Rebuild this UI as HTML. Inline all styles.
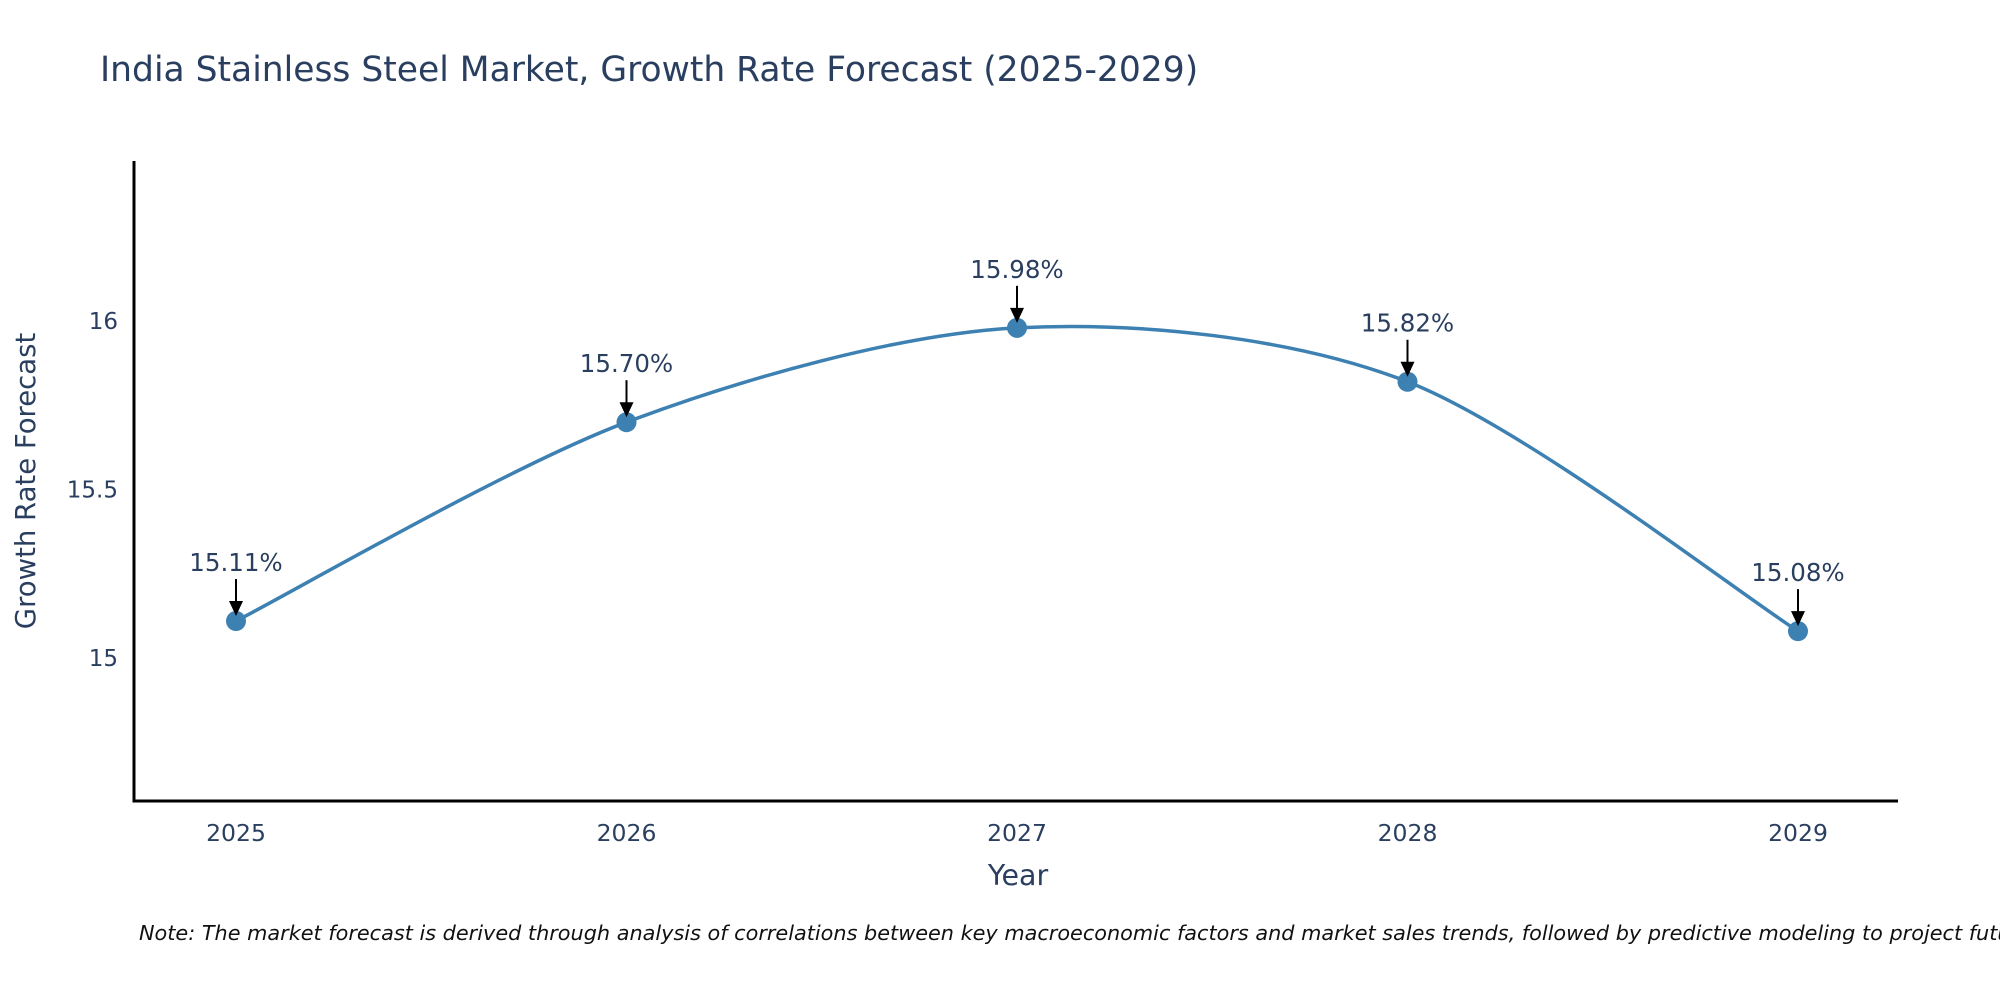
<!DOCTYPE html>
<html><head><meta charset="utf-8"><style>
body{margin:0;background:#fff;}
svg text{font-family:"DejaVu Sans","Liberation Sans",sans-serif;fill:#2a3f5f;}
</style></head><body>
<svg width="2000" height="1000" xmlns="http://www.w3.org/2000/svg">
<text x="100" y="81" font-size="34.5">India Stainless Steel Market, Growth Rate Forecast (2025-2029)</text>
<g id="plot"></g>
<text x="1018" y="885" font-size="28.5" text-anchor="middle">Year</text>
<text transform="translate(35,481) rotate(-90)" font-size="27.5" text-anchor="middle">Growth Rate Forecast</text>
<text x="139" y="940" font-size="20.8" font-style="italic" style="fill:#111">Note: The market forecast is derived through analysis of correlations between key macroeconomic factors and market sales trends, followed by predictive modeling to project future sales.</text>
</svg>
<script>
const years = [2025, 2026, 2027, 2028, 2029];
const values = [15.11, 15.70, 15.98, 15.82, 15.08];
const labels = ["15.11%", "15.70%", "15.98%", "15.82%", "15.08%"];
const yTicks = [15, 15.5, 16];

const NS = "http://www.w3.org/2000/svg";
const g = document.getElementById('plot');
const L = 134, R = 1898, T = 161, B = 801;
const yMin = 14.576, yMax = 16.475;
const X = v => 236 + (v - 2025) * (1798 - 236) / 4;
const Y = v => B - (v - yMin) / (yMax - yMin) * (B - T);
function mk(tag, attrs) { const e = document.createElementNS(NS, tag); for (const k in attrs) e.setAttribute(k, attrs[k]); g.appendChild(e); return e; }

let e;
e = mk('line', {x1: L, y1: T, x2: L, y2: B + 1.5, stroke: '#000', 'stroke-width': 3});


e = mk('line', {x1: L - 1.5, y1: B, x2: R, y2: B, stroke: '#000', 'stroke-width': 3});



yTicks.forEach(t => {
  const tx = mk('text', {x: L - 16, y: Y(t) + 8, 'font-size': 23, 'text-anchor': 'end'});
  tx.textContent = String(t);
  
  
});
years.forEach(yr => {
  const tx = mk('text', {x: X(yr), y: B + 40, 'font-size': 23.5, 'text-anchor': 'middle'});
  tx.textContent = String(yr);
  
  
});

const pts = years.map((yr, i) => [X(yr), Y(values[i])]);
let d = `M${pts[0][0]},${pts[0][1]}`;
const s = 0.15;
for (let i = 0; i < pts.length - 1; i++) {
  const p0 = pts[Math.max(0, i - 1)], p1 = pts[i], p2 = pts[i + 1], p3 = pts[Math.min(pts.length - 1, i + 2)];
  const c1 = [p1[0] + (p2[0] - p0[0]) * s, p1[1] + (p2[1] - p0[1]) * s];
  const c2 = [p2[0] - (p3[0] - p1[0]) * s, p2[1] - (p3[1] - p1[1]) * s];
  d += ` C${c1[0]},${c1[1]} ${c2[0]},${c2[1]} ${p2[0]},${p2[1]}`;
}
e = mk('path', {d: d, fill: 'none', stroke: '#3d80b2', 'stroke-width': 3.5});



pts.forEach((p, i) => {
  const c = mk('circle', {cx: p[0], cy: p[1], r: 10, fill: '#3d80b2'});
  
  
  const ln = mk('line', {x1: p[0], y1: p[1] - 42, x2: p[0], y2: p[1] - 18, stroke: '#000', 'stroke-width': 2});
  
  
  const tri = mk('polygon', {points: `${p[0]-7},${p[1]-20} ${p[0]+7},${p[1]-20} ${p[0]},${p[1]-5}`, fill: '#000'});
  
  
  const tx = mk('text', {x: p[0], y: p[1] - 50, 'font-size': 24.5, 'text-anchor': 'middle'});
  tx.textContent = labels[i];
  
  
});
</script>
</body></html>
